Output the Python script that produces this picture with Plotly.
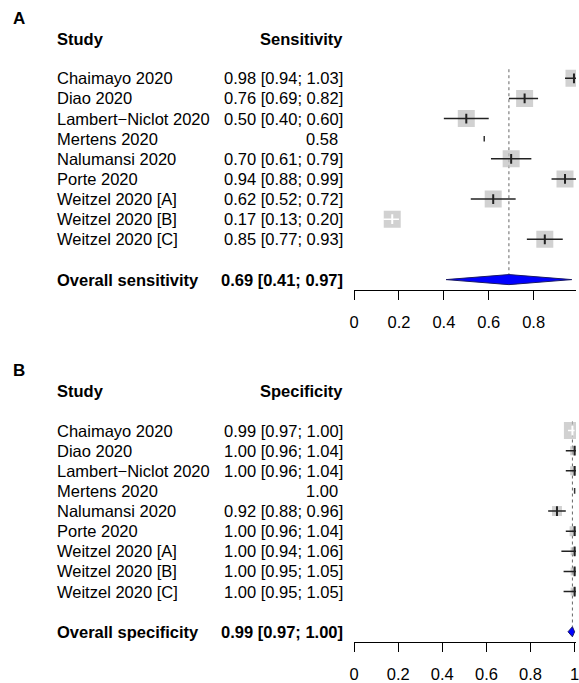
import plotly.graph_objects as go

# ---------------- data ----------------
studies = ["Chaimayo 2020", "Diao 2020", "Lambert\u2212Niclot 2020", "Mertens 2020",
           "Nalumansi 2020", "Porte 2020", "Weitzel 2020 [A]", "Weitzel 2020 [B]",
           "Weitzel 2020 [C]"]
sens_est = [0.98, 0.76, 0.50, 0.58, 0.70, 0.94, 0.62, 0.17, 0.85]
sens_lo = [0.94, 0.69, 0.40, None, 0.61, 0.88, 0.52, 0.13, 0.77]
sens_hi = [1.03, 0.82, 0.60, None, 0.79, 0.99, 0.72, 0.20, 0.93]
sens_overall = [0.69, 0.41, 0.97]   # estimate, lower, upper

spec_est = [0.99, 1.00, 1.00, 1.00, 0.92, 1.00, 1.00, 1.00, 1.00]
spec_lo = [0.97, 0.96, 0.96, None, 0.88, 0.96, 0.94, 0.95, 0.95]
spec_hi = [1.00, 1.04, 1.04, None, 0.96, 1.04, 1.06, 1.05, 1.05]
spec_overall = [0.99, 0.97, 1.00]

tick_vals = [0, 0.2, 0.4, 0.6, 0.8, 1]
tick_text = ["0", "0.2", "0.4", "0.6", "0.8", "1"]

# ---------------- styles ----------------
sq_size_a = [17, 17, 17, 0, 17, 17, 17, 17, 17]
sq_size_b = [17, 9, 9, 0, 10, 10, 8, 8, 8]
ci_col_a = ["black", "black", "black", "black", "black", "black", "black", "white", "black"]
ci_col_b = ["white", "black", "black", "black", "black", "black", "black", "black", "black"]

FONT = "Liberation Sans, Arial, sans-serif"
FS = 16.5
W, H = 579, 683
TEXT_L = 58.3 / W
TEXT_R = 344.3 / W
LSHIFT = -7

fig = go.Figure()


def fmt(e, lo, hi):
    if lo is None:
        return "%.2f" % e
    return "%.2f [%.2f; %.2f]" % (e, lo, hi)


def panel(xa, ya, yr, letter, measure, overall_name, est, lo, hi, overall, sq, cicol):
    rows = list(range(len(studies)))
    ov_row = len(studies) + 1
    # reference (dotted) line at overall estimate
    fig.add_trace(go.Scatter(x=[overall[0], overall[0]], y=[-0.45, ov_row - 0.25],
                             mode="lines", line=dict(color="#666666", width=1, dash="dot"),
                             xaxis=xa, yaxis=ya, hoverinfo="skip", showlegend=False))
    # squares
    fig.add_trace(go.Scatter(x=est, y=rows, mode="markers",
                             marker=dict(symbol="square", size=sq, color="#BEBEBE",
                                         line=dict(width=0)),
                             xaxis=xa, yaxis=ya, hoverinfo="skip", showlegend=False))
    # CI lines
    for col in ["black", "white"]:
        xs, ys = [], []
        for i in rows:
            if lo[i] is not None and cicol[i] == col:
                xs += [lo[i], hi[i], None]
                ys += [i, i, None]
        if xs:
            fig.add_trace(go.Scatter(x=xs, y=ys, mode="lines",
                                     line=dict(color="#222222" if col == "black" else "white", width=1.5),
                                     xaxis=xa, yaxis=ya, hoverinfo="skip", showlegend=False))
    # estimate ticks
    for col in ["black", "white"]:
        xs = [est[i] for i in rows if cicol[i] == col and lo[i] is not None]
        ys = [i for i in rows if cicol[i] == col and lo[i] is not None]
        if xs:
            fig.add_trace(go.Scatter(x=xs, y=ys, mode="markers",
                                     marker=dict(symbol="line-ns", size=7,
                                                 line=dict(width=2, color="#222222" if col == "black" else "white")),
                                     xaxis=xa, yaxis=ya, hoverinfo="skip", showlegend=False))
    # studies without CI: tiny tick
    xs = [est[i] for i in rows if lo[i] is None]
    ys = [i for i in rows if lo[i] is None]
    fig.add_trace(go.Scatter(x=xs, y=ys, mode="markers",
                             marker=dict(symbol="line-ns", size=4, line=dict(width=1.5, color="#333333")),
                             xaxis=xa, yaxis=ya, hoverinfo="skip", showlegend=False))
    # diamond
    e, l, h = overall
    fig.add_trace(go.Scatter(x=[l, e, h, e, l], y=[ov_row, ov_row - 0.25, ov_row, ov_row + 0.25, ov_row],
                             mode="lines", fill="toself", fillcolor="#0000FF",
                             line=dict(color="#1a1a66", width=1),
                             xaxis=xa, yaxis=ya, hoverinfo="skip", showlegend=False))
    # texts
    f = dict(family=FONT, size=FS, color="black")
    ann = []
    ann.append(dict(text="<b>%s</b>" % letter, x=14 / W, y=-2.98, xref="paper", yref=yr,
                    xanchor="left", yanchor="middle", showarrow=False, xshift=-8,
                    font=dict(family=FONT, size=17, color="black")))
    ann.append(dict(text="<b>Study</b>", x=TEXT_L, y=-1.95, xref="paper", yref=yr,
                    xanchor="left", yanchor="middle", showarrow=False, font=f, xshift=LSHIFT))
    ann.append(dict(text="<b>%s</b>" % measure, x=TEXT_R, y=-1.95, xref="paper", yref=yr,
                    xanchor="right", yanchor="middle", showarrow=False, font=f))
    for i in rows:
        ann.append(dict(text=studies[i], x=TEXT_L, y=i, xref="paper", yref=yr,
                        xanchor="left", yanchor="middle", showarrow=False, font=f, xshift=LSHIFT))
        ann.append(dict(text=fmt(est[i], lo[i], hi[i]), x=TEXT_R, y=i, xref="paper", yref=yr,
                        xanchor="right", yanchor="middle", showarrow=False, font=f,
                        xshift=-4.6 if lo[i] is None else 0))
    ann.append(dict(text="<b>%s</b>" % overall_name, x=TEXT_L, y=ov_row, xref="paper", yref=yr,
                    xanchor="left", yanchor="middle", showarrow=False, font=f, xshift=LSHIFT))
    ann.append(dict(text="<b>%s</b>" % fmt(e, l, h), x=TEXT_R, y=ov_row, xref="paper", yref=yr,
                    xanchor="right", yanchor="middle", showarrow=False, font=f))
    return ann


annotations = []
annotations += panel("x", "y", "y", "A", "Sensitivity", "Overall sensitivity",
                     sens_est, sens_lo, sens_hi, sens_overall, sq_size_a, ci_col_a)
annotations += panel("x2", "y2", "y2", "B", "Specificity", "Overall specificity",
                     spec_est, spec_lo, spec_hi, spec_overall, sq_size_b, ci_col_b)

xcommon = dict(showline=True, linecolor="black", linewidth=1, ticks="outside", ticklen=9,
               tickwidth=1, tickcolor="black", tickvals=tick_vals, ticktext=tick_text,
               tickfont=dict(family=FONT, size=FS, color="black"), showgrid=False,
               zeroline=False, ticklabelstandoff=8, fixedrange=True, ticklabeloverflow="allow")

fig.update_layout(
    width=W, height=H, margin=dict(l=0, r=0, t=0, b=0),
    paper_bgcolor="white", plot_bgcolor="white",
    xaxis=dict(domain=[354 / W, 1], range=[0, 225 / 227.5], anchor="y", **xcommon),
    yaxis=dict(domain=[1 - 290.7 / H, 1], range=[10.53, -3.889], visible=False, fixedrange=True),
    xaxis2=dict(domain=[354 / W, 1], range=[0, 225 / 223.6], anchor="y2", **xcommon),
    yaxis2=dict(domain=[1 - 642.7 / H, 1 - 352 / H], range=[10.496, -3.93], visible=False,
                fixedrange=True),
    annotations=annotations,
    showlegend=False,
)

fig.write_html("out.html", config={"displayModeBar": False},
               post_script="document.body.style.margin='0px';document.body.style.overflow='hidden';")
